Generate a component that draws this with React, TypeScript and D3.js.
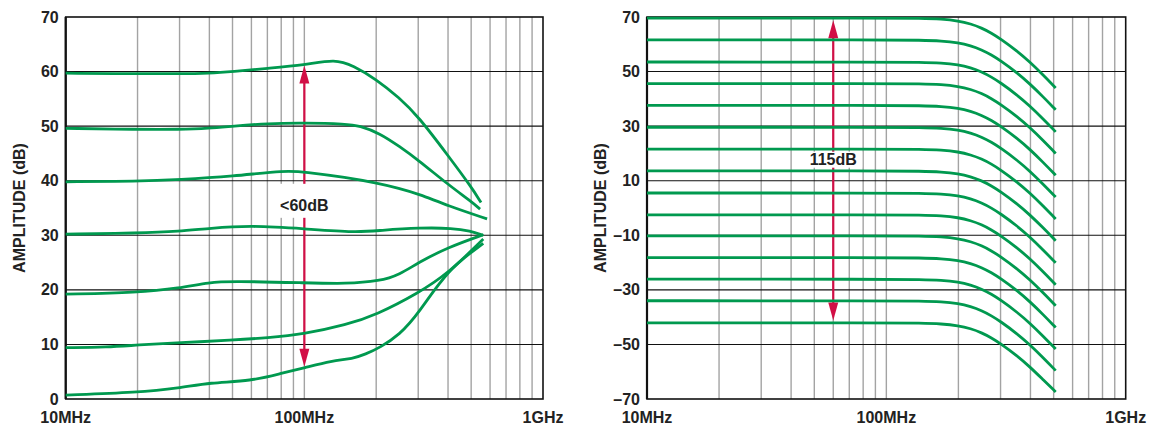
import React from "react";
import * as d3 from "d3";

// frequencies in MHz, amplitudes in dB
const xTickValues = [10, 100, 1000];
const xTickLabels = ["10MHz", "100MHz", "1GHz"];
const minorFreqs = [20, 30, 40, 50, 60, 70, 80, 90, 200, 300, 400, 500, 600, 700, 800, 900];

const leftYTicks = [0, 10, 20, 30, 40, 50, 60, 70];
const rightYTicks = [-70, -50, -30, -10, 10, 30, 50, 70];

// left panel: each curve as [freq, dB] points
const leftCurves: [number, number][][] = [
  [[10, 59.7], [20, 59.6], [30, 59.6], [40, 59.7], [50, 60.0], [70, 60.6], [100, 61.2], [135, 62.3], [160, 61.1], [200, 58.6], [250, 55.2], [300, 51.8], [400, 44.6], [500, 38.9], [550, 36.0]],
  [[10, 49.6], [20, 49.4], [30, 49.4], [40, 49.6], [50, 50.0], [70, 50.5], [100, 50.6], [150, 50.4], [170, 50.1], [207, 48.7], [250, 46.3], [300, 43.8], [400, 39.3], [500, 36.2], [545, 34.8]],
  [[10, 39.8], [20, 39.9], [30, 40.2], [50, 40.8], [84, 41.9], [100, 41.6], [150, 40.6], [200, 39.6], [250, 38.6], [300, 37.6], [400, 35.4], [583, 33.0]],
  [[10, 30.2], [20, 30.4], [30, 30.7], [40, 31.3], [60, 31.8], [100, 31.2], [165, 30.5], [207, 30.9], [305, 31.4], [420, 31.3], [494, 30.8], [562, 30.0]],
  [[10, 19.2], [20, 19.5], [30, 20.3], [40, 21.4], [50, 21.6], [100, 21.3], [150, 21.1], [207, 21.6], [251, 22.8], [300, 25.0], [400, 27.8], [562, 30.1]],
  [[10, 9.4], [15, 9.5], [20, 9.9], [30, 10.3], [50, 10.8], [70, 11.2], [100, 11.9], [150, 13.6], [200, 15.4], [300, 19.4], [400, 23.0], [562, 29.3]],
  [[10, 0.7], [20, 1.2], [30, 2.0], [40, 3.0], [60, 3.3], [80, 4.7], [100, 5.7], [130, 7.0], [160, 7.4], [180, 8.2], [207, 9.4], [251, 11.8], [300, 15.6], [400, 23.8], [562, 28.5]],
];

// right panel: shared frequency points, one row of dB values per curve
const rightFreqs = [10, 100, 140, 170, 200, 225, 250, 275, 300, 350, 400, 450, 510];
const rightCurves: number[][] = [
  [69.6, 69.6, 69.5, 69.25, 68.6, 67.5, 66.0, 64.1, 62.0, 57.7, 53.3, 48.9, 44.0],
  [61.6, 61.6, 61.5, 61.25, 60.6, 59.5, 58.0, 56.1, 54.0, 49.7, 45.3, 40.9, 36.0],
  [53.5, 53.5, 53.4, 53.15, 52.5, 51.4, 49.9, 48.0, 45.9, 41.6, 37.2, 32.8, 27.9],
  [45.6, 45.6, 45.5, 45.25, 44.6, 43.5, 42.0, 40.1, 38.0, 33.7, 29.3, 24.9, 20.0],
  [37.6, 37.6, 37.5, 37.25, 36.6, 35.5, 34.0, 32.1, 30.0, 25.7, 21.3, 16.9, 12.0],
  [29.6, 29.6, 29.5, 29.25, 28.6, 27.5, 26.0, 24.1, 22.0, 17.7, 13.3, 8.9, 4.0],
  [21.6, 21.6, 21.5, 21.25, 20.6, 19.5, 18.0, 16.1, 14.0, 9.7, 5.3, 0.9, -4.0],
  [13.6, 13.6, 13.5, 13.25, 12.6, 11.5, 10.0, 8.1, 6.0, 1.7, -2.7, -7.1, -12.0],
  [5.5, 5.5, 5.4, 5.15, 4.5, 3.4, 1.9, 0.0, -2.1, -6.4, -10.8, -15.2, -20.1],
  [-2.5, -2.5, -2.6, -2.85, -3.5, -4.6, -6.1, -8.0, -10.1, -14.4, -18.8, -23.2, -28.1],
  [-10.2, -10.2, -10.3, -10.55, -11.2, -12.3, -13.8, -15.7, -17.8, -22.1, -26.5, -30.9, -35.8],
  [-18.2, -18.2, -18.3, -18.55, -19.2, -20.3, -21.8, -23.7, -25.8, -30.1, -34.5, -38.9, -43.8],
  [-26.1, -26.1, -26.2, -26.45, -27.1, -28.2, -29.7, -31.6, -33.7, -38.0, -42.4, -46.8, -51.7],
  [-34.0, -34.0, -34.1, -34.35, -35.0, -36.1, -37.6, -39.5, -41.6, -45.9, -50.3, -54.7, -59.6],
  [-42.1, -42.1, -42.2, -42.45, -43.1, -44.2, -45.7, -47.6, -49.7, -54.0, -58.4, -62.8, -67.4],
];

// dimension arrows
const leftArrow = { freq: 100, from: 5.9, to: 61.1, at: 35.4, label: "<60dB" };
const rightArrow = { freq: 60, from: -41.2, to: 68.8, at: 17.7, label: "115dB" };

const GREEN = "#00994f";
const RED = "#d20f46";
const FONT = "'Liberation Sans', Arial, sans-serif";

const fmt = (v: number) => (v < 0 ? "\u2013" + Math.abs(v) : String(v));

const Panel = ({ left, right, yDomain, yTicks, gridTicks, curves, arrow, boxUp, boxDown, titleX }: any) => {
  const top = 17;
  const bottom = 399;
  const x = d3.scaleLog().domain([10, 1000]).range([left, right]);
  const y = d3.scaleLinear().domain(yDomain).range([bottom, top]);

  const line = d3
    .line<[number, number]>()
    .x((d) => x(d[0]))
    .y((d) => y(d[1]))
    .curve(d3.curveBasis);

  const ax = x(arrow.freq);
  const yTip1 = y(arrow.to);
  const yTip2 = y(arrow.from);
  const yl = y(arrow.at);
  const head = 18;
  const hw = 5;

  return (
    <g>
      {minorFreqs.map((f) => (
        <line key={f} x1={x(f)} x2={x(f)} y1={top} y2={bottom} stroke="#a3a3a3" strokeWidth={1.4} />
      ))}
      <line x1={x(100)} x2={x(100)} y1={top} y2={bottom} stroke="#a3a3a3" strokeWidth={1.4} />
      {gridTicks.map((v: number) => (
        <line key={v} x1={left} x2={right} y1={y(v)} y2={y(v)} stroke="#111" strokeWidth={1.1} />
      ))}
      <rect x={left} y={top} width={right - left} height={bottom - top} fill="none" stroke="#111" strokeWidth={1.6} />
      <line x1={left} x2={left} y1={top} y2={bottom} stroke="#111" strokeWidth={2.2} />

      {/* arrow */}
      <line x1={ax} x2={ax} y1={yTip1 + head - 2} y2={yTip2 - head + 2} stroke={RED} strokeWidth={2.2} />
      <path d={`M${ax},${yTip1} L${ax - hw},${yTip1 + head} L${ax + hw},${yTip1 + head} Z`} fill={RED} />
      <path d={`M${ax},${yTip2} L${ax - hw},${yTip2 - head} L${ax + hw},${yTip2 - head} Z`} fill={RED} />
      <rect x={ax - 29} y={yl - boxUp} width={58} height={boxUp + boxDown} fill="#fff" />
      <text x={ax} y={yl} dy="0.35em" textAnchor="middle" fontFamily={FONT} fontWeight="bold" fontSize={16} fill="#222">
        {arrow.label}
      </text>

      {curves.map((c: [number, number][], i: number) => (
        <path key={i} d={line(c) || ""} fill="none" stroke={GREEN} strokeWidth={2.8} strokeLinecap="butt" />
      ))}

      {yTicks.map((v: number) => (
        <text key={v} x={left - 7} y={y(v)} dy="0.35em" textAnchor="end" fontFamily={FONT} fontWeight="bold" fontSize={16} fill="#222">
          {fmt(v)}
        </text>
      ))}
      {xTickValues.map((v, i) => (
        <text key={v} x={x(v)} y={423} textAnchor="middle" fontFamily={FONT} fontWeight="bold" fontSize={16} fill="#222">
          {xTickLabels[i]}
        </text>
      ))}
      <text
        transform={`translate(${titleX},208) rotate(-90)`}
        dy="0.35em"
        textAnchor="middle"
        fontFamily={FONT}
        fontWeight="bold"
        fontSize={16}
        fill="#222"
      >
        AMPLITUDE (dB)
      </text>
    </g>
  );
};

export default function App() {
  const rightPts = rightCurves.map((row) => row.map((v, i) => [rightFreqs[i], v] as [number, number]));
  return (
    <svg width={1150} height={425} style={{ position: "absolute", left: 0, top: 0, background: "#fff" }}>
      <Panel
        left={65.7}
        right={543}
        yDomain={[0, 70]}
        yTicks={leftYTicks}
        gridTicks={[10, 20, 30, 40, 50, 60]}
        curves={leftCurves}
        arrow={leftArrow}
        boxUp={22}
        boxDown={12}
        titleX={19}
      />
      <Panel
        left={647}
        right={1125.7}
        yDomain={[-70, 70]}
        yTicks={rightYTicks}
        gridTicks={[-50, -30, -10, 10, 30, 50]}
        curves={rightPts}
        arrow={rightArrow}
        boxUp={8}
        boxDown={8}
        titleX={600}
      />
    </svg>
  );
}
